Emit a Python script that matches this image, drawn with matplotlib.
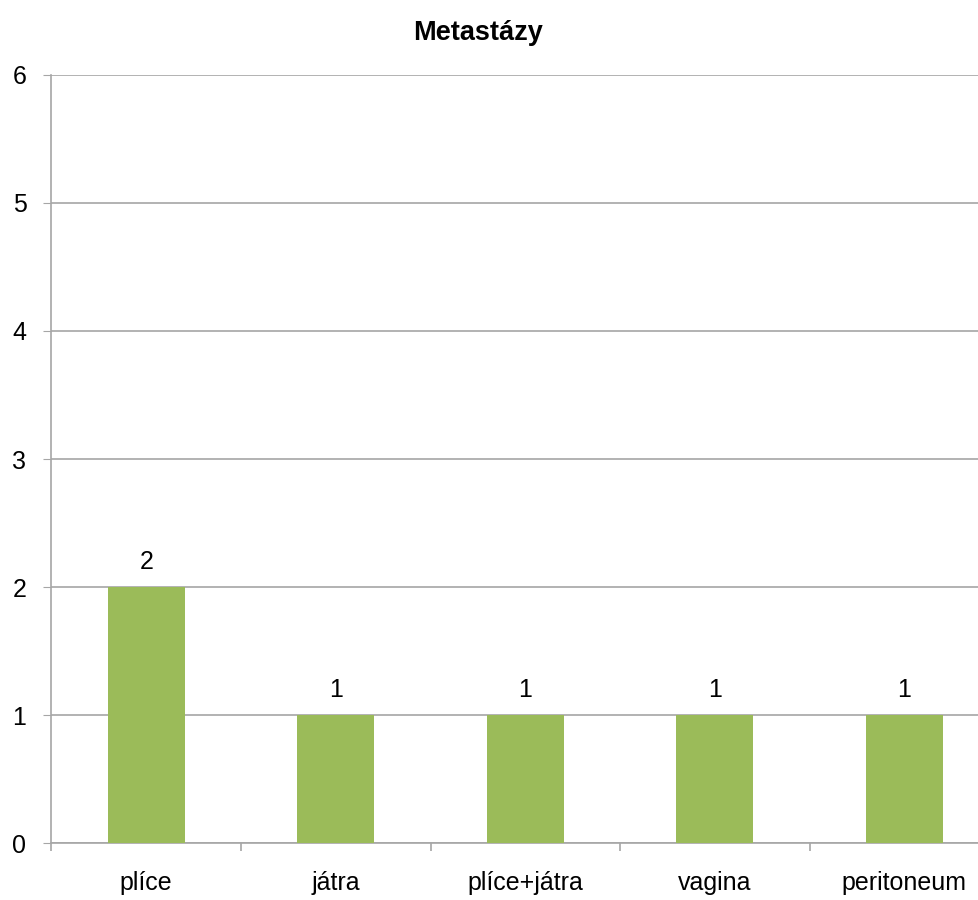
import matplotlib.pyplot as plt
import numpy as np

plt.rcParams["font.family"] = ["Liberation Sans", "DejaVu Sans"]

categories = ["plíce", "játra", "plíce+játra", "vagina", "peritoneum"]
counts = [2, 1, 1, 1, 1]
y_ticks = [0, 1, 2, 3, 4, 5, 6]

BAR_COLOR = "#9BBB59"
GRID_COLOR = "#A6A6A6"


def main():
    fig = plt.figure(figsize=(9.79, 9.0), dpi=100)
    # plot area runs slightly past the right edge of the canvas
    ax = fig.add_axes([0.0526, 0.063, 0.968, 0.854])

    x = np.arange(len(categories))
    bars = ax.bar(x, counts, width=0.405, color=BAR_COLOR, zorder=3)

    for rect, value in zip(bars, counts):
        ax.text(
            rect.get_x() + rect.get_width() / 2,
            value + 0.1,
            str(value),
            ha="center",
            va="bottom",
            fontsize=18,
        )

    ax.set_xlim(-0.5, len(categories) - 0.5)
    ax.set_ylim(0, 6)
    ax.set_yticks(y_ticks)
    ax.set_xticks(x)
    ax.set_xticklabels(categories, fontsize=18)
    ax.set_xticks(np.arange(-0.5, len(categories)), minor=True)

    ax.yaxis.grid(True, color=GRID_COLOR, linewidth=1.2, zorder=0)
    ax.set_axisbelow(True)

    for side in ["top", "right"]:
        ax.spines[side].set_visible(False)
    for side in ["left", "bottom"]:
        ax.spines[side].set_color(GRID_COLOR)
        ax.spines[side].set_linewidth(1.2)

    ax.tick_params(axis="y", length=6, color=GRID_COLOR, labelsize=18, pad=12)
    ax.tick_params(axis="x", which="major", length=0, labelsize=18, pad=20)
    ax.tick_params(axis="x", which="minor", length=6, color=GRID_COLOR, width=1.2)

    fig.suptitle("Metastázy", fontsize=19.5, fontweight="bold", x=0.488, y=0.978)

    fig.savefig("out.png", dpi=100, facecolor="white")
    plt.close(fig)


if __name__ == "__main__":
    main()
